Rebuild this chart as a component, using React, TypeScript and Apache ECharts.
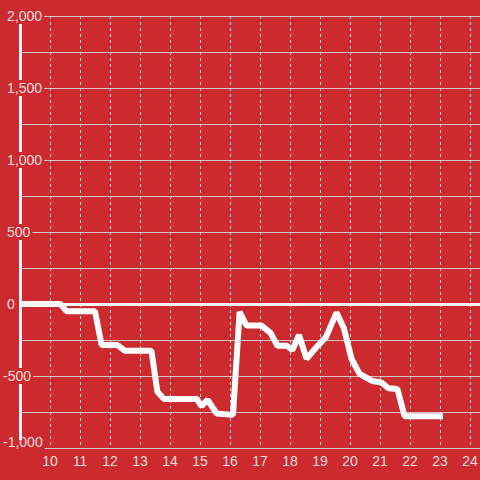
import React, { useEffect, useRef } from "react";
import * as echarts from "echarts";

const hours = [
  9.0, 10.35, 10.55, 11.5, 11.72, 12.25, 12.5, 13.38, 13.58, 13.8, 14.9, 15.05, 15.25, 15.55, 16.1,
  16.32, 16.55, 17.05, 17.35, 17.58, 17.9, 18.08, 18.3, 18.55, 18.9, 19.2, 19.55, 19.8, 20.05,
  20.32, 20.75, 21.05, 21.28, 21.58, 21.82, 23.1,
];
const values = [
  0, 0, -50, -50, -285, -285, -325, -325, -610, -660, -660, -710, -665, -760, -770,
  -55, -150, -150, -200, -290, -290, -320, -215, -380, -295, -230, -60, -170, -380,
  -485, -535, -545, -585, -590, -780, -780,
];
const xTickLabels = ["10", "11", "12", "13", "14", "15", "16", "17", "18", "19", "20", "21", "22", "23", "24"];
const yMin = -1000;
const yMax = 2000;

const BG = "#cc2a2f";
const TXT = "#f3dcdc";
const FONT = "Liberation Sans";

export default function App() {
  const ref = useRef<HTMLDivElement>(null);
  useEffect(() => {
    document.body.style.margin = "0";
    document.body.style.background = BG;
    const chart = echarts.init(ref.current!, null, { renderer: "svg" });
    const data = hours.map((h, i) => [h, values[i]]);
    const richBase = { fontSize: 14, fontFamily: FONT, color: TXT, lineHeight: 14 };
    chart.setOption({
      animation: false,
      backgroundColor: BG,
      grid: { left: 20, right: 0, top: 16, bottom: 32, containLabel: false, outerBoundsMode: "none" },
      xAxis: {
        type: "value",
        min: 9,
        max: 24.333,
        interval: 1,
        axisLine: { show: false },
        axisTick: { show: false },
        splitLine: { show: true, lineStyle: { color: "#dddddd", type: [3, 3], width: 1 } },
        axisLabel: {
          color: TXT,
          fontSize: 14,
          fontFamily: FONT,
          margin: 6,
          showMaxLabel: false,
          formatter: (v: number) => {
            const s = String(Math.round(v));
            return Number.isInteger(v) && xTickLabels.includes(s) ? s : "";
          },
        },
      },
      yAxis: [
        {
          type: "value",
          min: yMin,
          max: yMax,
          interval: 250,
          z: 0,
          axisLine: { show: false },
          axisTick: { show: false },
          axisLabel: { show: false },
          splitLine: { show: true, lineStyle: { color: "#c9c9c9", width: 1 } },
        },
        {
          type: "value",
          min: yMin,
          max: yMax,
          interval: 500,
          z: 1,
          position: "left",
          axisLine: { show: true, lineStyle: { color: "#f5f5f5", width: 3 } },
          axisTick: { show: false },
          splitLine: { show: false },
          axisLabel: {
            align: "left",
            margin: 17,
            color: TXT,
            fontSize: 14,
            fontFamily: FONT,
            backgroundColor: BG,
            padding: [1, 2, 1, 0],
            formatter: (v: number) => {
              const s = v.toLocaleString("en-US");
              if (v === yMin) return "{low|" + s + "}";
              if (v < 0) return "{n|" + s + "}";
              return "{p|" + s + "}";
            },
            rich: {
              p: { ...richBase, padding: [0, 0, 0, 4] },
              n: { ...richBase },
              low: { ...richBase, padding: [0, 0, 12, 0] },
            },
          },
        },
      ],
      series: [
        {
          type: "line",
          data,
          xAxisIndex: 0,
          yAxisIndex: 0,
          symbol: "none",
          lineStyle: { color: "#ffffff", width: 6 },
          markLine: {
            silent: true,
            symbol: ["none", "none"],
            label: { show: false },
            lineStyle: { color: "#f5f5f5", width: 3, type: "solid" },
            data: [{ yAxis: 0 }],
          },
        },
      ],
    });
    return () => chart.dispose();
  }, []);
  return <div ref={ref} style={{ width: 480, height: 480 }} />;
}
